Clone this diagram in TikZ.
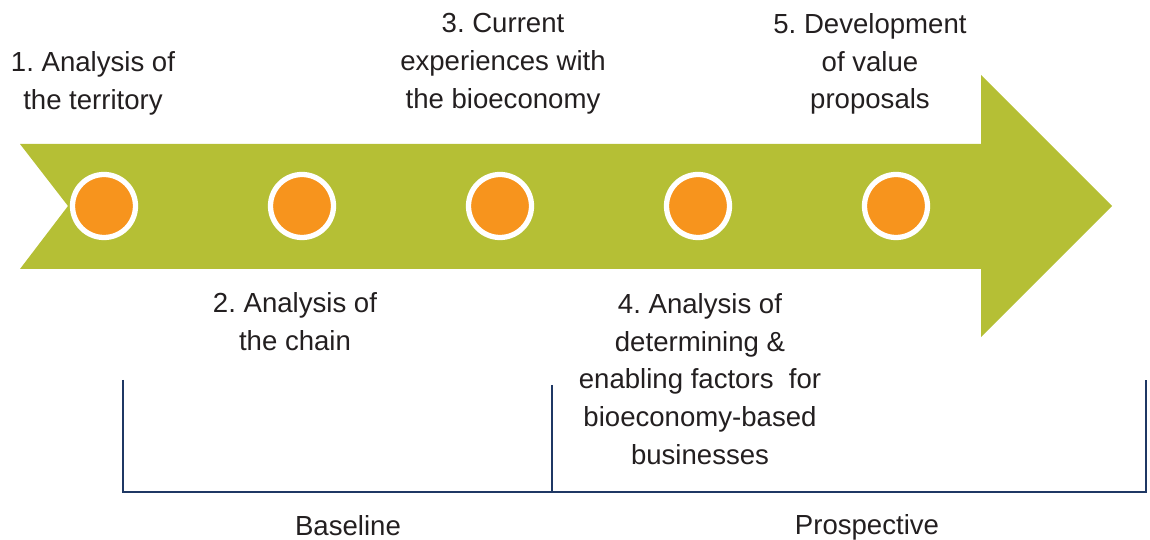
\documentclass[tikz,border=0pt]{standalone}
\usepackage{fontspec}
\setmainfont{Liberation Sans}
\frenchspacing
\definecolor{arrowgreen}{RGB}{181,191,53}
\definecolor{dotorange}{RGB}{247,148,29}
\definecolor{navy}{RGB}{31,56,100}
\definecolor{txt}{RGB}{35,31,32}
\begin{document}
\begin{tikzpicture}[x=0.02cm,y=-0.02cm,
  dot/.style={circle,fill=dotorange,draw=white,line width=3pt,minimum size=63*0.02cm,inner sep=0pt},
  lbl/.style={align=center,text=txt,font=\fontsize{15.7}{21.5}\selectfont\frenchspacing,inner sep=0pt},
  brk/.style={draw=navy,line width=1.4pt}]
\useasboundingbox (0,0) rectangle (1150,540);
% arrow
\fill[arrowgreen] (20,144) -- (981,144) -- (981,75) -- (1112,206) -- (981,337) -- (981,269) -- (20,269) -- (68,206) -- cycle;
% dots
\foreach \i/\x in {1/104,2/302,3/500,4/698,5/896}
  \node[dot] (c\i) at (\x,206) {};
% labels
\node[lbl] (t1) at (93,83) {1. Analysis of\\the territory};
\node[lbl] (t3) at (503,64) {3. Current\\experiences with\\the bioeconomy};
\node[lbl] (t5) at (870,64) {5. Development\\of value\\proposals};
\node[lbl] (t2) at (295,322) {2. Analysis of\\the chain};
\node[lbl] (t4) at (700,379) {4. Analysis of\\determining \&\\enabling factors\ \ for\\bioeconomy-based\\businesses};
% bracket
\coordinate (bl) at (123,380);
\coordinate (blb) at (123,492);
\coordinate (bm) at (552,385);
\coordinate (bmb) at (552,492);
\coordinate (br) at (1146,380);
\coordinate (brb) at (1146,492);
\draw[brk] (bl) -- (blb) -- (brb) -- (br);
\draw[brk] (bm) -- (bmb);
\node[lbl] (base) at (348,526) {Baseline};
\node[lbl] (prosp) at (867,527) {Prospective};
\end{tikzpicture}
\end{document}
